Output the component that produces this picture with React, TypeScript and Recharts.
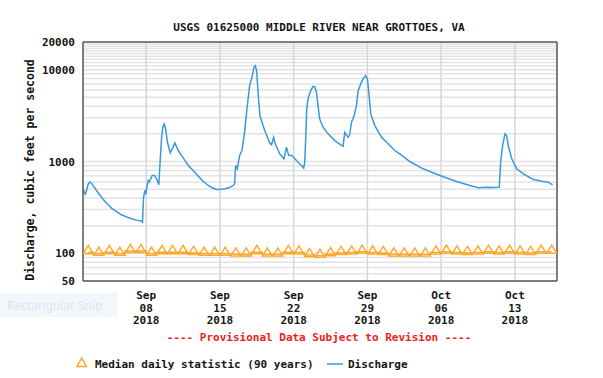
import React from 'react';
import { LineChart, Line, XAxis, YAxis, ReferenceLine, CartesianGrid } from 'recharts';

const FONT = '"DejaVu Sans Mono", "Liberation Mono", monospace';

// Discharge (cfs); x = day offset from Sep 1 2018 00:00
const dischargeDays = [
  1.0, 1.1, 1.23, 1.35, 1.5, 1.64, 1.8, 2.0, 2.28, 2.75, 3.2, 3.7, 4.2, 4.65, 5.1, 5.6, 6.1, 6.49, 6.65,
  6.75, 6.87, 6.95, 7.19, 7.3, 7.57, 7.82, 8.05, 8.2, 8.3, 8.45, 8.58, 8.71, 8.82, 9.02, 9.28, 9.5, 9.72,
  10.04, 10.5, 11.0, 11.5, 11.94, 12.4, 12.9, 13.3, 13.68, 14.1, 14.47, 14.9, 15.27, 15.39, 15.49, 15.64,
  15.87, 16.09, 16.34, 16.6, 16.82, 17.04, 17.23, 17.36, 17.48, 17.67, 17.8, 18.25, 18.72, 18.9, 19.1,
  19.25, 19.67, 20.08, 20.31, 20.53, 20.84, 21.26, 21.73, 21.95, 22.05, 22.14, 22.24, 22.36, 22.62, 22.84,
  23.0, 23.16, 23.31, 23.47, 23.79, 24.27, 24.9, 25.47, 25.69, 25.85, 26.16, 26.3, 26.49, 26.74, 26.96,
  27.12, 27.37, 27.59, 27.82, 28.0, 28.16, 28.32, 28.7, 29.34, 29.97, 30.6, 31.08, 32.03, 33.29, 34.88,
  36.47, 37.73, 38.52, 39.32, 40.0, 40.52, 40.65, 40.84, 41.06, 41.22, 41.37, 41.7, 42.17, 42.8, 43.75,
  44.7, 45.17, 45.58,
];
const dischargeValues = [
  505, 470, 440, 490, 570, 598, 580, 540, 484, 409, 355, 311, 285, 263, 250, 238, 230, 225, 219,
  409, 484, 440, 621, 600, 705, 705, 621, 558, 905, 1766, 2360, 2570, 2360, 1620, 1243, 1400, 1597,
  1317, 1100, 905, 790, 693, 610, 548, 515, 496, 500, 505, 520, 548, 573, 905, 833,
  1162, 1317, 2080, 4063, 6700, 8240, 10600, 11000, 9770, 4790, 3160, 2170, 1597, 1520, 1838,
  1557, 1212, 1070, 1430, 1162, 1162, 1025, 905, 846, 983, 1766, 3740, 4790, 5910, 6580,
  6520, 5660, 4063, 2910, 2360, 2000, 1690, 1520, 1467, 2080, 1838, 1917, 2670, 3160, 4063,
  5910, 7000, 7930, 8610, 7930, 5210, 3300, 2460, 1838, 1557, 1317, 1212, 1000, 833, 705,
  606, 548, 518, 526, 520, 526, 983, 1493, 2000, 1917, 1493, 1070, 833, 735, 637,
  606, 596, 558,
];

// Median daily statistic (90 years), one per day at noon
const medianDays = [
  1.5, 2.5, 3.5, 4.5, 5.5, 6.5, 7.5, 8.5, 9.5, 10.5, 11.5, 12.5, 13.5, 14.5, 15.5,
  16.5, 17.5, 18.5, 19.5, 20.5, 21.5, 22.5, 23.5, 24.5, 25.5, 26.5, 27.5, 28.5, 29.5, 30.5,
  31.5, 32.5, 33.5, 34.5, 35.5, 36.5, 37.5, 38.5, 39.5, 40.5, 41.5, 42.5, 43.5, 44.5, 45.5,
];
const medianValues = [
  103, 99, 103, 99, 106, 106, 99, 103, 103, 103, 101, 99, 99, 99, 97,
  97, 103, 97, 97, 103, 102, 96, 94, 98, 101, 102, 104, 102, 101, 97,
  97, 97, 97, 102, 104, 102, 101, 102, 104, 102, 104, 102, 101, 104, 104,
];

const xTicks = [7, 14, 21, 28, 35, 42];
const xTickMonths = ['Sep', 'Sep', 'Sep', 'Sep', 'Oct', 'Oct'];
const xTickDays = ['08', '15', '22', '29', '06', '13'];
const xTickYears = ['2018', '2018', '2018', '2018', '2018', '2018'];
const yTicks = [50, 100, 1000, 10000, 20000];
const yGridValues = [
  60, 70, 80, 90, 100, 200, 300, 400, 500, 600, 700, 800, 900, 1000, 2000, 3000, 4000, 5000,
  6000, 7000, 8000, 9000, 10000, 11000, 12000, 13000, 14000, 15000, 16000, 17000, 18000, 19000,
];

const dischargeData = dischargeDays.map((d, i) => ({ d, v: dischargeValues[i] }));
const medianData = medianDays.map((d, i) => ({ d, v: medianValues[i] }));

const ORANGE = '#FFA726';
const BLUE = '#3A9AD9';
const TEXT = '#151515';

const XTick = (props: any) => {
  const { x, y, payload } = props;
  const i = xTicks.indexOf(payload.value);
  return (
    <text x={x} y={y} textAnchor="middle" fontFamily={FONT} fontWeight="bold" fontSize={11} fill={TEXT}>
      <tspan x={x} dy={18}>{xTickMonths[i]}</tspan>
      <tspan x={x} dy={12.5}>{xTickDays[i]}</tspan>
      <tspan x={x} dy={12.5}>{xTickYears[i]}</tspan>
    </text>
  );
};

const YTick = (props: any) => {
  const { x, y, payload } = props;
  return (
    <text x={x - 8} y={y + 4} textAnchor="end" fontFamily={FONT} fontWeight="bold" fontSize={11} fill={TEXT}>
      {payload.value}
    </text>
  );
};

const YLabel = () => (
  <text
    x={34}
    y={170}
    transform="rotate(-90, 34, 170)"
    textAnchor="middle"
    fontFamily={FONT}
    fontWeight="bold"
    fontSize={11.5}
    fill={TEXT}
  >
    Discharge, cubic feet per second
  </text>
);

const Tri = (props: any) => {
  const { cx, cy } = props;
  if (cx == null || cy == null) return null;
  return (
    <polygon
      points={`${cx},${cy - 6.7} ${cx - 5},${cy + 1.6} ${cx + 5},${cy + 1.6}`}
      fill="none"
      stroke={ORANGE}
      strokeWidth={1.4}
    />
  );
};

export default function App() {
  return (
    <div style={{ position: 'absolute', left: 0, top: 0, width: 603, height: 378, background: '#fff' }}>
      <LineChart width={603} height={378} margin={{ top: 42, right: 46, left: 0, bottom: 0 }}>
        <CartesianGrid
          vertical={false}
          horizontalValues={yGridValues}
          stroke="#e3e3e3"
          strokeWidth={1.5}
        />
        <CartesianGrid
          horizontal={false}
          verticalValues={xTicks}
          stroke="#d6d6d6"
          strokeWidth={1.5}
        />
        <XAxis
          type="number"
          dataKey="d"
          domain={[1, 46]}
          ticks={xTicks}
          interval={0}
          allowDataOverflow
          height={97}
          axisLine={false}
          tickLine={false}
          tickSize={0}
          tickMargin={0}
          tick={<XTick />}
        />
        <YAxis
          type="number"
          scale="log"
          domain={[50, 20000]}
          ticks={yTicks}
          interval={0}
          allowDataOverflow
          width={83}
          axisLine={false}
          tickLine={false}
          tickSize={0}
          tickMargin={0}
          tick={<YTick />}
          label={{ content: <YLabel /> }}
        />
        <Line
          data={medianData}
          dataKey="v"
          type="step"
          stroke={ORANGE}
          strokeWidth={1.5}
          dot={<Tri />}
          isAnimationActive={false}
        />
        <Line
          data={dischargeData}
          dataKey="v"
          type="linear"
          stroke={BLUE}
          strokeWidth={1.5}
          dot={false}
          isAnimationActive={false}
        />
        <ReferenceLine x={1} stroke="#555" strokeWidth={1.5} />
        <ReferenceLine x={46} stroke="#555" strokeWidth={1.5} />
        <ReferenceLine y={50} stroke="#555" strokeWidth={1.5} />
        <ReferenceLine y={20000} stroke="#555" strokeWidth={1.5} />
      </LineChart>
      <svg
        width={603}
        height={378}
        style={{ position: 'absolute', left: 0, top: 0, pointerEvents: 'none' }}
      >
        <text x={319} y={30.5} textAnchor="middle" fontFamily={FONT} fontWeight="bold" fontSize={11} fill={TEXT}>
          USGS 01625000 MIDDLE RIVER NEAR GROTTOES, VA
        </text>
        <rect x={0} y={293} width={118} height={24} fill="#f3f7fb" />
        <text x={7} y={309.5} fontFamily='"Noto Sans", sans-serif' fontSize={12} fill="#dfe4ea">
          Rectangular Snip
        </text>
        <text x={319} y={341} textAnchor="middle" fontFamily={FONT} fontWeight="bold" fontSize={11} fill="#ee1c1c">
          ---- Provisional Data Subject to Revision ----
        </text>
        <polygon points="81.7,358 77,366.5 86.4,366.5" fill="none" stroke={ORANGE} strokeWidth={1.4} />
        <text x={95} y={368} fontFamily={FONT} fontWeight="bold" fontSize={11} fill={TEXT}>
          Median daily statistic (90 years)
        </text>
        <line x1={327} y1={364} x2={343} y2={364} stroke={BLUE} strokeWidth={1.5} />
        <text x={348} y={368} fontFamily={FONT} fontWeight="bold" fontSize={11} fill={TEXT}>
          Discharge
        </text>
      </svg>
    </div>
  );
}
